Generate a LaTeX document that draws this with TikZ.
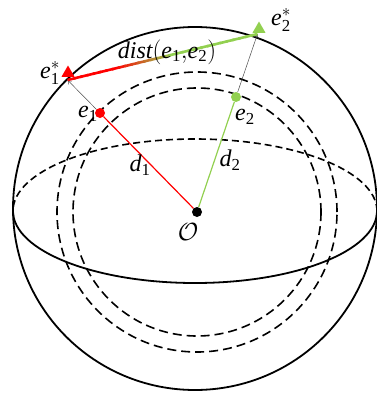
\documentclass[tikz,border=0pt]{standalone}
\usepackage{fontspec}
\setmainfont{Liberation Serif}
\usetikzlibrary{arrows.meta,shapes.geometric,calc}
\definecolor{lgreen}{RGB}{146,208,80}
\newcommand{\elab}[1]{\mathit{e}_{\mathrm{#1}}}

\begin{document}
\begin{tikzpicture}[x=1pt, y=-1pt,
    lbl/.style={font=\fontsize{24}{28}\selectfont, inner sep=0pt},
    dot/.style={circle, fill, inner sep=0pt, minimum size=10pt},
    tri/.style={regular polygon, regular polygon sides=3, fill, inner sep=0pt, minimum size=15pt},
    back/.style={dash pattern=on 9pt off 5pt, line width=1.6pt},
    ptr/.style={-{To[length=4pt,width=5pt]}, line width=0.5pt, black!70},
    dline/.style={line width=2.6pt, line cap=butt}
]
\useasboundingbox (0,0) rectangle (376,399);

% sphere and equator
\draw[line width=1.8pt] (195,208.5) ellipse [x radius=182pt, y radius=181.5pt];
\draw[line width=1.8pt] (13,211) arc [start angle=180, end angle=360, x radius=182pt, y radius=72pt];
\draw[dash pattern=on 7pt off 4pt, line width=1.6pt] (377,211) arc [start angle=0, end angle=180, x radius=182pt, y radius=72pt];

% inner spheres
\draw[back] (197,212) circle [radius=140pt];
\draw[back] (197,212) circle [radius=124pt];

\coordinate (s1) at (67.5,80);
\coordinate (s2) at (257.5,34);

\node[dot] (O) at (197,212) {};
\node[dot, red] (e1) at (100,113) {};
\node[dot, lgreen] (e2) at (236,97) {};

\draw[red, line width=1.2pt] (O) -- (e1);
\draw[lgreen, line width=1.2pt] (O) -- (e2);
\draw[ptr] (e1) -- (s1);
\draw[ptr] (e2) -- (s2);

% distance, red to green
\foreach \i in {0,...,29} {
  \pgfmathsetmacro\p{max(0,min(100,(0.55-(\i+0.5)/30)/0.3*100))}
  \pgfmathsetmacro\ta{\i/30}
  \pgfmathsetmacro\tb{min(1,(\i+1.3)/30)}
  \draw[dline, red!\p!lgreen] ($(s1)!\ta!(s2)$) -- ($(s1)!\tb!(s2)$);
}

\node[tri, red] (t1) at (68,73) {};
\node[tri, lgreen] (t2) at (259,29) {};

% labels
\node[lbl] (le1s) at (50,73) {$\elab{1}^{*}$};
\node[lbl] (le1) at (88,114) {$\elab{1}$};
\node[lbl] (le2) at (245,117) {$\elab{2}$};
\node[lbl] (le2s) at (281,20) {$\elab{2}^{*}$};
\node[lbl] (ld1) at (140,165) {$\mathit{d}_{\mathrm{1}}$};
\node[lbl] (ld2) at (230,160) {$\mathit{d}_{\mathrm{2}}$};
\node[lbl] (lO) at (188,232) {$\mathcal{O}$};
\node[lbl] (ldist) at (167,52) {$\mathit{dist}\mathrm{(}\elab{1}\mathrm{,}\elab{2}\mathrm{)}$};
\end{tikzpicture}
\end{document}
